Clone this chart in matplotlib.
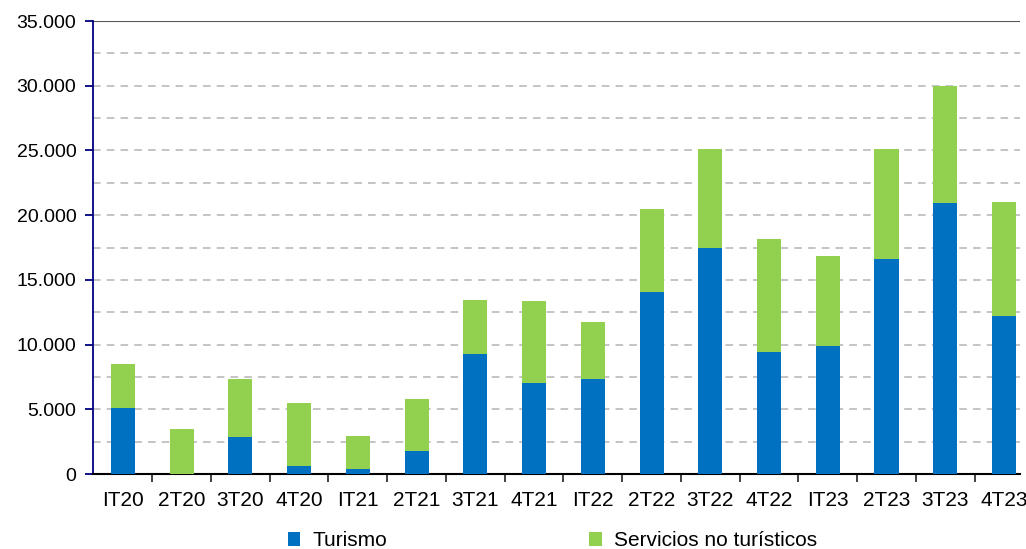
import numpy as np
import matplotlib.pyplot as plt
from matplotlib.ticker import FuncFormatter, MultipleLocator

plt.rcParams['font.family'] = ['Liberation Sans', 'DejaVu Sans']

quarters = ['IT20', '2T20', '3T20', '4T20', 'IT21', '2T21', '3T21', '4T21',
            'IT22', '2T22', '3T22', '4T22', 'IT23', '2T23', '3T23', '4T23']
turismo = [5100, 0, 2860, 620, 390, 1780, 9270, 7030,
           7340, 14060, 17470, 9430, 9890, 16600, 20940, 12200]
totales = [8500, 3480, 7340, 5490, 2940, 5800, 13450, 13370,
           11750, 20480, 25100, 18160, 16850, 25150, 29980, 21050]
no_turismo = [t - b for t, b in zip(totales, turismo)]

x = np.arange(len(quarters))

fig = plt.figure(figsize=(10.26, 5.49), dpi=100)
ax = fig.add_axes([0.0906, 0.1366, 0.9034, 0.8251])

ax.bar(x, turismo, width=0.41, color='#0070C0', label='Turismo', zorder=3)
ax.bar(x, no_turismo, width=0.41, bottom=turismo, color='#92D050',
       label='Servicios no turísticos', zorder=3)

ax.set_ylim(0, 35000)
ax.set_xlim(-0.51, 15.27)
ax.yaxis.set_major_locator(MultipleLocator(5000))
ax.yaxis.set_major_formatter(FuncFormatter(lambda v, p: f'{int(v):,}'.replace(',', '.')))

for v in np.arange(2500, 35000, 2500):
    ax.axhline(v, color='#B4B4B4', linestyle=(0, (5, 4)), linewidth=1.1, zorder=1)
ax.axhline(35000, color='#555555', linewidth=1.5, zorder=2)

ax.set_xticks(x)
ax.set_xticklabels(quarters)
ax.set_xticks(np.arange(0.5, 15.5, 1), minor=True)
ax.tick_params(axis='x', which='major', length=0, pad=12, labelsize=15)
ax.tick_params(axis='x', which='minor', length=6, width=1.3, color='#333333')
ax.tick_params(axis='y', length=6, width=1.3, color='#000080', labelsize=14, pad=6)

for s in ['top', 'right']:
    ax.spines[s].set_visible(False)
ax.spines['left'].set_color('#000080')
ax.spines['left'].set_linewidth(1.3)
ax.spines['bottom'].set_color('#000000')
ax.spines['bottom'].set_linewidth(1.5)

fig.legend(loc='center', bbox_to_anchor=(0.5385, 0.015), ncol=2, frameon=False,
           fontsize=15, handlelength=0.6, handleheight=0.6, columnspacing=9.7,
           handletextpad=0.6)

fig.savefig('out.png', dpi=100)
